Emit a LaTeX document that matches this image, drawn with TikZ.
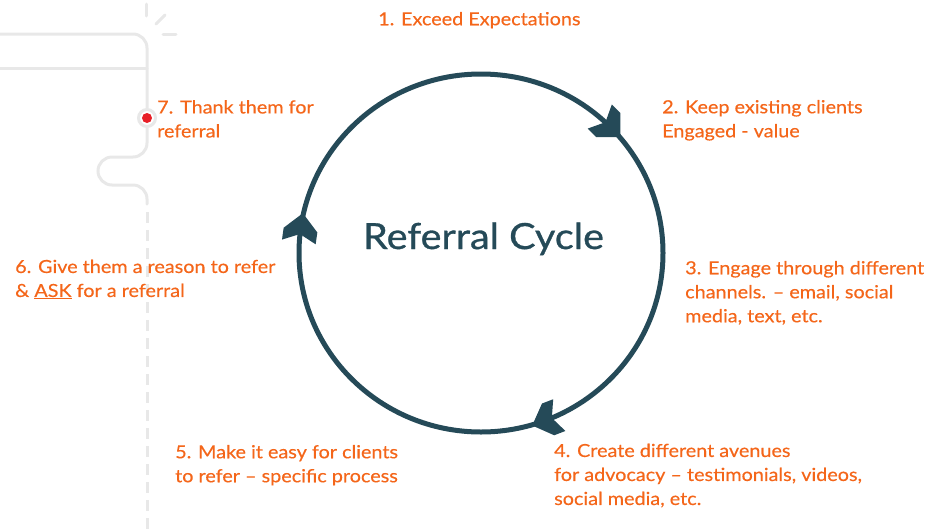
\documentclass[tikz,border=0pt]{standalone}
\usepackage{fontspec}
\setmainfont{Lato}
\newfontfamily\lblfont{Lato}[FakeStretch=1.1,FakeBold=0.4]
\newfontfamily\ttlfont{Lato}[FakeStretch=1.1,FakeBold=0.8]
\definecolor{orng}{RGB}{244,102,26}
\definecolor{tealc}{RGB}{37,74,88}
\definecolor{lgrey}{RGB}{232,232,232}
\definecolor{reddot}{RGB}{232,32,40}
\tikzset{
  lbl/.style={text=orng, font=\lblfont\fontsize{18}{24}\selectfont, align=left, anchor=north west, inner sep=0pt},
  deco/.style={draw=lgrey, line width=3pt, line cap=round},
}
\newcommand\chevronat[1]{%
  \fill[tealc, shift={({481+182*cos(#1)},{253-179*sin(#1)})}, rotate={#1-90}]
    (15,0) -- (-2,17) -- (-14,17) -- (-6,0) -- (-14,-17) -- (-2,-17) -- cycle;}
\begin{document}
\begin{tikzpicture}[x=1pt,y=-1pt]
\useasboundingbox (0,0) rectangle (940,531);
% decorative grey lines
\draw[deco, rounded corners=14pt] (0,34) -- (147,34) -- (147,108);
\draw[deco] (0,68) -- (147,68);
\draw[deco, rounded corners=14pt] (147,128) -- (147,157) -- (98,157) -- (98,185) -- (147,185) -- (147,204);
\draw[deco, line cap=butt, dash pattern=on 11pt off 7pt] (147,212) -- (147,531);
\draw[deco] (146,4) -- (146,16);
\draw[deco] (156,24) -- (165,15);
\draw[deco] (163,34) -- (176,34);
\node[circle, draw=lgrey, line width=3pt, fill=white, minimum size=17pt, inner sep=0pt] (ring) at (147,118) {};
\node[circle, fill=reddot, minimum size=10pt, inner sep=0pt] (dot) at (147,118) {};
% cycle
\draw[tealc, line width=5pt] (481,253) ellipse [x radius=182, y radius=179];
\chevronat{45}
\chevronat{-69}
\chevronat{172}
\node[text=tealc, font=\ttlfont\fontsize{36}{40}\selectfont, anchor=base, inner sep=0pt] (title) at (483.5,249) {Referral Cycle};
% labels
\node[lbl] (t1) at (378,11.8) {1. Exceed Expectations};
\node[lbl] (t2) at (662,99.8) {2. Keep existing clients\\Engaged - value};
\node[lbl] (t3) at (685,260.8) {3. Engage through different\\channels. – email, social\\media, text, etc.};
\node[lbl] (t4) at (554,443.5) {4. Create different avenues\\for advocacy – testimonials, videos,\\social media, etc.};
\node[lbl] (t5) at (175,444.8) {5. Make it easy for clients\\to refer – specific process};
\node[lbl] (t6) at (15,259.5) {6. Give them a reason to refer\\\& \underline{ASK} for a referral};
\node[lbl] (t7) at (157,100) {7. Thank them for\\referral};
\end{tikzpicture}
\end{document}
